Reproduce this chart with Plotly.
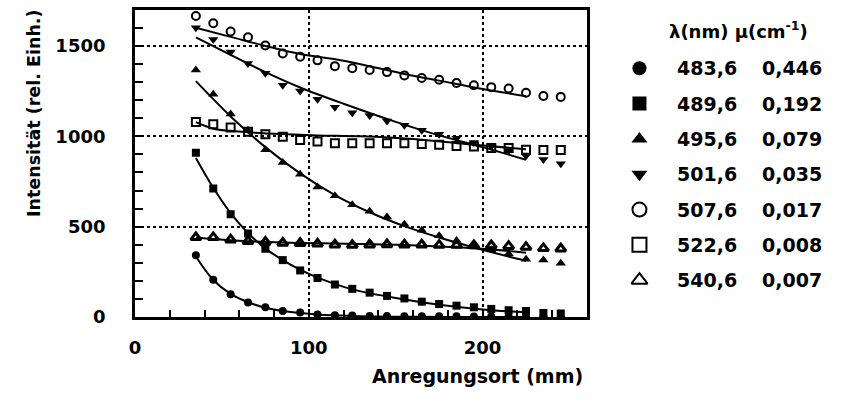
import plotly.graph_objects as go

# Excitation position along the sample (mm)
x_pts = [35, 45, 55, 65, 75, 85, 95, 105, 115, 125, 135, 145, 155, 165,
         175, 185, 195, 205, 215, 225, 235, 245]

# Measured intensities (rel. units) per wavelength
y_4836 = [342, 207, 126, 81, 54, 33, 25, 14, 10, 8, 6, 6, 5, 5, 4, 4, 3, 3, 3, 2, 2, 2]
y_4896 = [909, 711, 569, 462, 378, 315, 258, 216, 180, 156, 135, 117, 103, 85,
          72, 63, 54, 45, 38, 33, 22, 20]
y_4956 = [1367, 1232, 1124, 1034, 926, 855, 790, 720, 671, 621, 585, 553, 513, 480,
          450, 423, 395, 372, 350, 320, 315, 297]
y_5016 = [1600, 1535, 1466, 1403, 1349, 1282, 1250, 1205, 1160, 1130, 1115, 1085,
          1061, 1034, 1012, 989, 965, 945, 920, 893, 871, 848]
y_5076 = [1665, 1625, 1580, 1548, 1502, 1458, 1440, 1420, 1388, 1376, 1367, 1355,
          1337, 1322, 1313, 1295, 1282, 1272, 1264, 1241, 1223, 1218]
y_5226 = [1079, 1066, 1048, 1025, 1012, 998, 980, 971, 962, 962, 962, 962, 962,
          958, 953, 947, 944, 935, 935, 926, 924, 924]
y_5406 = [441, 441, 428, 420, 415, 410, 408, 405, 400, 398, 400, 402, 400, 400,
          398, 398, 396, 396, 392, 387, 380, 378]

# Fitted curves (x, y) per wavelength
fx_4836 = [35, 45, 55, 65, 75, 85, 95, 105, 125, 150, 175, 200, 225]
fy_4836 = [335, 205, 128, 82, 52, 34, 22, 14, 6, 2, 1, 0, 0]
fx_4896 = [35, 45, 55, 65, 75, 85, 95, 105, 115, 125, 150, 175, 200, 225]
fy_4896 = [880, 715, 575, 465, 380, 315, 262, 218, 183, 153, 105, 68, 42, 26]
fx_4956 = [35, 55, 75, 95, 115, 135, 155, 175, 195, 215, 225]
fy_4956 = [1305, 1110, 940, 795, 675, 580, 503, 440, 385, 335, 312]
fx_5016 = [35, 55, 75, 95, 120, 150, 175, 200, 225]
fy_5016 = [1547, 1450, 1355, 1270, 1180, 1080, 1005, 940, 870]
fx_5076 = [35, 55, 75, 95, 120, 155, 175, 200, 225]
fy_5076 = [1600, 1550, 1500, 1455, 1418, 1345, 1308, 1262, 1222]
fx_5226 = [35, 45, 55, 65, 85, 105, 130, 160, 190, 225]
fy_5226 = [1078, 1042, 1030, 1022, 1012, 1005, 1000, 985, 958, 928]
fx_5406 = [35, 55, 85, 125, 165, 200, 225]
fy_5406 = [440, 425, 412, 405, 395, 378, 356]

wavelengths = ["483,6", "489,6", "495,6", "501,6", "507,6", "522,6", "540,6"]
mus = ["0,446", "0,192", "0,079", "0,035", "0,017", "0,008", "0,007"]
symbols = ["circle", "square", "triangle-up", "triangle-down",
           "circle-open", "square-open", "triangle-up-open"]
series = [y_4836, y_4896, y_4956, y_5016, y_5076, y_5226, y_5406]
fits = [(fx_4836, fy_4836), (fx_4896, fy_4896), (fx_4956, fy_4956),
        (fx_5016, fy_5016), (fx_5076, fy_5076), (fx_5226, fy_5226),
        (fx_5406, fy_5406)]

FONT = "DejaVu Sans"
W, H = 842, 409
fig = go.Figure()

# fitted curves
for fx, fy in fits:
    fig.add_trace(go.Scatter(x=fx, y=fy, mode="lines", line=dict(color="black", width=2, shape="spline"),
                             showlegend=False, hoverinfo="skip"))

# measured points
for sym, ys in zip(symbols, series):
    opened = sym.endswith("open")
    size = 9 if "triangle" in sym else 8
    lw = 3 if sym == "triangle-up-open" else (2 if opened else 0)
    fig.add_trace(go.Scatter(
        x=x_pts, y=ys, mode="markers", showlegend=False,
        marker=dict(symbol=sym, size=size, color="black",
                    line=dict(color="black", width=lw))))

# key on the right: symbol, wavelength, attenuation coefficient
row0, row_step = 70, 36.2
rows = [row0 + i * row_step for i in range(len(symbols))]
for sym, ry in zip(symbols, rows):
    opened = sym.endswith("open")
    fig.add_trace(go.Scatter(
        x=[638], y=[ry], xaxis="x2", yaxis="y2", mode="markers", showlegend=False,
        marker=dict(symbol=sym, size=14, color="black",
                    line=dict(color="black", width=2 if opened else 0))))

annotations = []
for wl, mu, ry in zip(wavelengths, mus, rows):
    annotations.append(dict(x=674, y=ry, xref="x2", yref="y2", text=wl, showarrow=False,
                            xanchor="left", yanchor="middle",
                            font=dict(family=FONT, size=19, color="black", weight="bold")))
    annotations.append(dict(x=759, y=ry, xref="x2", yref="y2", text=mu, showarrow=False,
                            xanchor="left", yanchor="middle",
                            font=dict(family=FONT, size=19, color="black", weight="bold")))
annotations.append(dict(x=666, y=31, xref="x2", yref="y2",
                        text="λ(nm) μ(cm<sup>-1</sup>)", showarrow=False,
                        xanchor="left", yanchor="middle",
                        font=dict(family=FONT, size=18, color="black", weight="bold")))

# axis titles
annotations.append(dict(x=475 / W, y=1 - 385 / H, xref="paper", yref="paper",
                        text="Anregungsort (mm)", showarrow=False,
                        xanchor="center", yanchor="middle",
                        font=dict(family=FONT, size=19, color="black", weight="bold")))
annotations.append(dict(x=28 / W, y=1 - 116 / H, xref="paper", yref="paper",
                        text="Intensität (rel. Einh.)", showarrow=False, textangle=-90,
                        xanchor="center", yanchor="middle",
                        font=dict(family=FONT, size=17.5, color="black", weight="bold")))

tickfont = dict(family=FONT, size=18, color="black", weight="bold")
fig.update_layout(
    width=W, height=H, margin=dict(l=0, r=0, t=0, b=0),
    paper_bgcolor="white", plot_bgcolor="white",
    annotations=annotations,
    xaxis=dict(domain=[130 / W, 585 / W], range=[0, 260], tickvals=[0, 100, 200],
               showgrid=True, gridcolor="black", griddash="dot", gridwidth=1.5,
               zeroline=False, showline=True, linecolor="black", linewidth=3, mirror=True,
               ticks="inside", ticklen=8, tickwidth=2, tickcolor="black",
               minor=dict(dtick=20, tick0=0, ticks="inside", ticklen=7, tickwidth=2,
                          tickcolor="black", showgrid=False),
               tickfont=tickfont, ticklabelstandoff=12),
    yaxis=dict(domain=[1 - 325 / H, 1 - 10 / H], range=[0, 1700], tickvals=[0, 500, 1000, 1500],
               showgrid=True, gridcolor="black", griddash="dot", gridwidth=1.5,
               zeroline=False, showline=True, linecolor="black", linewidth=3, mirror=True,
               ticks="inside", ticklen=8, tickwidth=2, tickcolor="black",
               minor=dict(dtick=100, tick0=0, ticks="inside", ticklen=8, tickwidth=2,
                          tickcolor="black", showgrid=False),
               tickfont=tickfont, ticklabelstandoff=23),
    xaxis2=dict(domain=[600 / W, 1], range=[600, 842], visible=False, anchor="y2"),
    yaxis2=dict(domain=[0, 1], range=[409, 0], visible=False, anchor="x2"),
)

fig.write_html("out.html")
